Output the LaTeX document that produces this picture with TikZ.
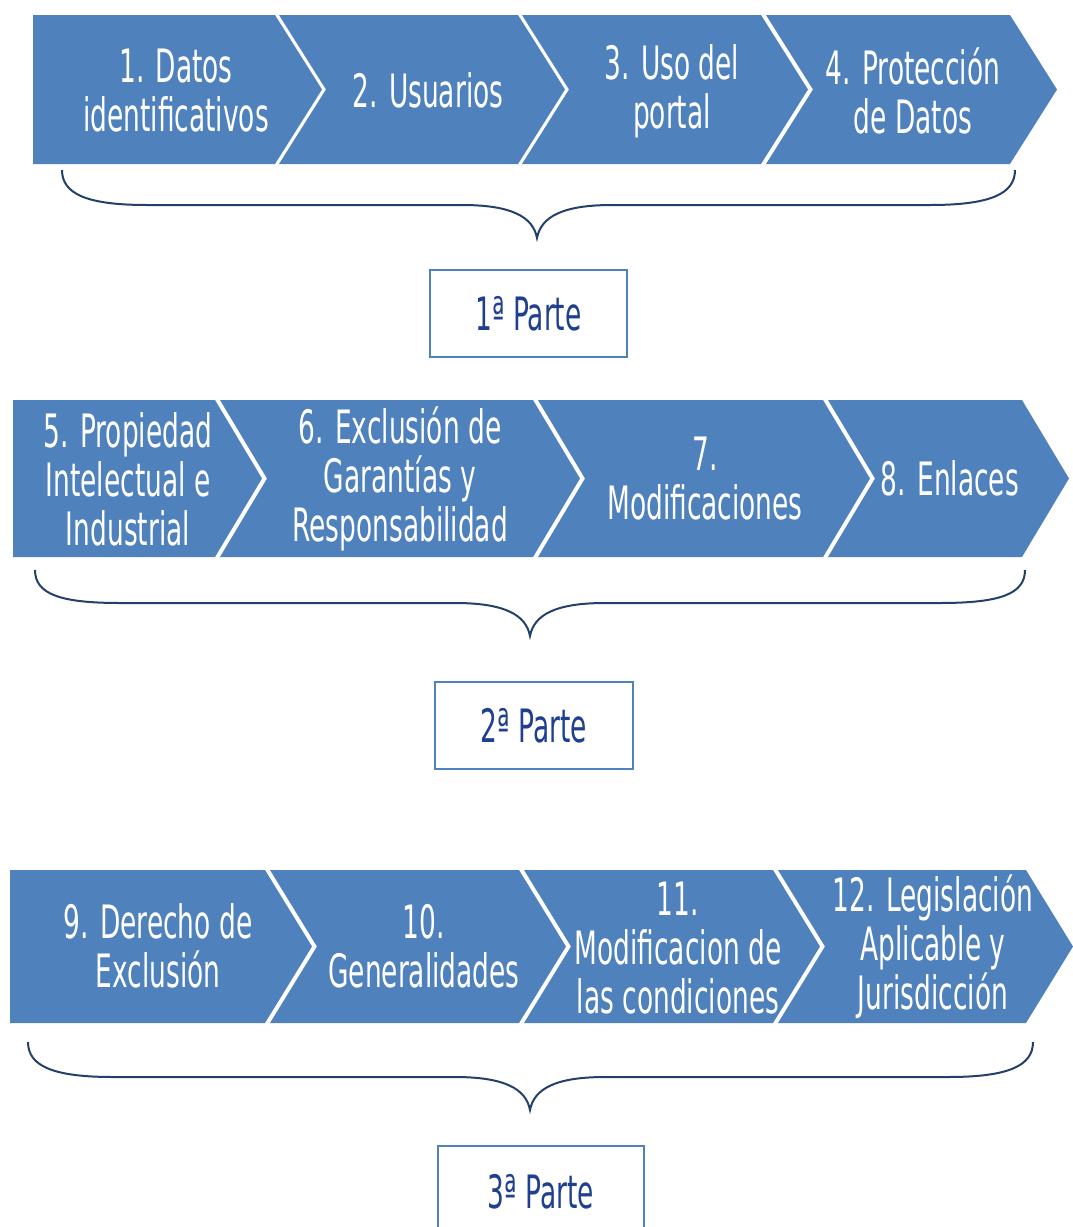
\documentclass[tikz,border=0pt]{standalone}
\usepackage{fontspec}
\setmainfont{DejaVu Sans}[FakeStretch=0.575]
\definecolor{chev}{HTML}{4F81BD}
\definecolor{navy}{HTML}{1F3F8F}
\definecolor{bracec}{HTML}{22406A}
\newcommand\mychevflat[4]{%
  \fill[chev] (#1,#3) -- (#2,#3) -- ({#2+47},{(#3+#4)/2}) -- (#2,#4) -- (#1,#4) -- cycle;}
\newcommand\mychevnotch[4]{%
  \fill[chev] (#1,#3) -- (#2,#3) -- ({#2+47},{(#3+#4)/2}) -- (#2,#4) -- (#1,#4) -- ({#1+47},{(#3+#4)/2}) -- cycle;}
% brace: x1, x2, ytop, ymid, xtip, ytip
\newcommand\mybrace[6]{%
  \draw[bracestyle] (#1,#3) .. controls (#1,{#3+24}) and ({#1+25},#4) .. ({#1+85},#4)
    -- ({#5-75},#4) .. controls ({#5-25},#4) and ({#5-4},{#4+12}) .. (#5,#6)
    .. controls ({#5+4},{#4+12}) and ({#5+25},#4) .. ({#5+75},#4)
    -- ({#2-85},#4) .. controls ({#2-25},#4) and (#2,{#3+24}) .. (#2,#3);}
\tikzset{
  lbl/.style={text=white, align=center, font=\fontsize{46}{49}\selectfont, inner sep=0pt},
  partbox/.style={draw=chev, line width=1.6pt, fill=white, text=navy, inner sep=0pt,
    font=\fontsize{46}{49}\selectfont},
  bracestyle/.style={draw=bracec, line width=2pt}
}
\begin{document}
\begin{tikzpicture}[x=1pt,y=-1pt]
\useasboundingbox (0,0) rectangle (1073,1227);
% Row 1
\mychevflat{33}{275}{15}{164}
\mychevnotch{279}{518}{15}{164}
\mychevnotch{522}{761}{15}{164}
\mychevnotch{766}{1010}{15}{164}
\node[lbl] (n1) at (176,91) {1. Datos\\identificativos};
\node[lbl] (n2) at (428,90) {2. Usuarios};
\node[lbl] (n3) at (672,91) {3. Uso del\\portal};
\node[lbl] (n4) at (913,91) {4. Protección\\de Datos};
\mybrace{62}{1015}{170}{205}{537}{238}
\node[partbox, minimum width=197pt, minimum height=87pt] (p1) at (528.5,313.5) {1ª Parte};
% Row 2
\mychevflat{13}{215}{400}{557}
\mychevnotch{220}{533}{400}{557}
\mychevnotch{538}{823}{400}{557}
\mychevnotch{828}{1022}{400}{557}
\node[lbl] (n5) at (128,479) {5. Propiedad\\Intelectual e\\Industrial};
\node[lbl] (n6) at (400,479) {6. Exclusión de\\Garantías y\\Responsabilidad};
\node[lbl] (n7) at (705,479) {7.\\Modificaciones};
\node[lbl] (n8) at (950,478) {8. Enlaces};
\mybrace{35}{1025}{570}{603}{530}{636}
\node[partbox, minimum width=198pt, minimum height=87pt] (p2) at (534,725.5) {2ª Parte};
% Row 3
\mychevflat{10}{265}{870}{1023}
\mychevnotch{270}{519}{870}{1023}
\mychevnotch{524}{773}{870}{1023}
\mychevnotch{778}{1026}{870}{1023}
\node[lbl] (n9) at (158,946) {9. Derecho de\\Exclusión};
\node[lbl] (n10) at (424,946) {10.\\Generalidades};
\node[lbl] (n11) at (678,948) {11.\\Modificacion de\\las condiciones};
\node[lbl] (n12) at (933,947) {12. Legislación\\Aplicable y\\Jurisdicción};
\mybrace{28}{1033}{1042}{1077}{530}{1110}
\node[partbox, minimum width=206pt, minimum height=92pt] (p3) at (541,1192) {3ª Parte};
\end{tikzpicture}
\end{document}
